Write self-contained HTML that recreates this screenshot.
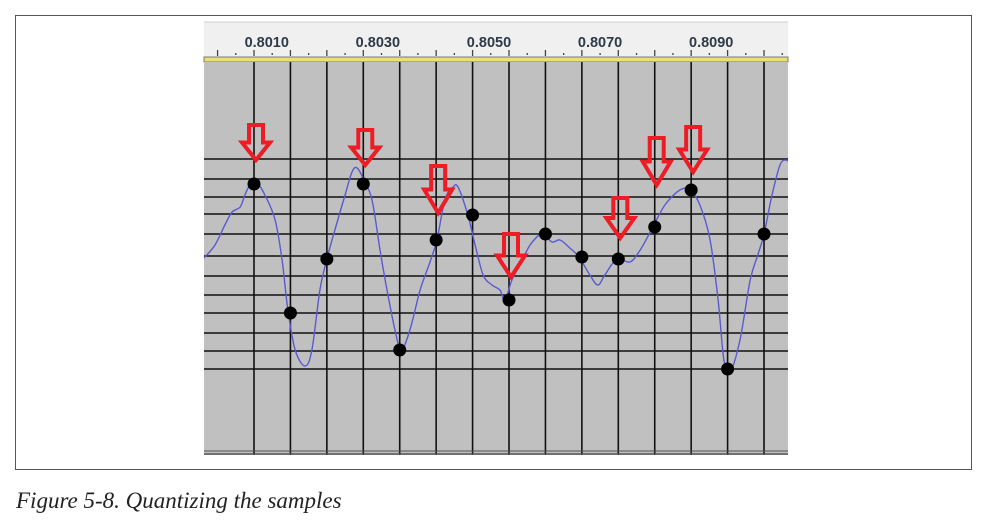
<!DOCTYPE html>
<html><head><meta charset="utf-8"><style>
body{margin:0;background:#fff;width:988px;height:529px;overflow:hidden;position:relative;font-family:"Liberation Sans",sans-serif}
#frame{position:absolute;left:15px;top:15px;width:957px;height:455px;border:1px solid #555;box-sizing:border-box}
#cap{position:absolute;left:16px;top:488px;font-family:"Liberation Serif",serif;font-style:italic;font-size:23px;color:#222}
</style></head><body>
<div id="frame"></div>
<svg id="chart" width="988" height="529" style="position:absolute;left:0;top:0"></svg>
<div id="cap">Figure 5-8. Quantizing the samples</div>
<script>
const rulerLabels=["0.8010","0.8030","0.8050","0.8070","0.8090"];
const sampleIdx=[0,1,2,3,4,5,6,7,8,9,10,11,12,13,14];
const sampleVals=[0.72,-0.57,-0.03,0.72,-0.94,0.16,0.41,-0.44,0.22,-0.01,-0.03,0.29,0.66,-1.13,0.22];
const levels=[0.97,0.77,0.59,0.42,0.22,0.0,-0.2,-0.39,-0.57,-0.77,-0.95,-1.13];
const arrowSamples=[0,3,5,7,10,11,12];
const arrowTipV=[0.96,0.91,0.43,-0.21,0.18,0.71,0.84];
const arrowTopV=[1.31,1.26,0.90,0.22,0.58,1.18,1.29];
const curveT=[-1.37,-1.07,-0.8,-0.6,-0.38,-0.25,-0.11,0.08,0.3,0.58,0.77,0.93,1.13,1.4,1.59,1.81,2.0,2.22,2.5,2.69,2.83,3.02,3.24,3.46,3.65,3.87,4.04,4.28,4.56,4.83,5.02,5.24,5.44,5.6,5.87,6.07,6.29,6.53,6.75,6.89,7.08,7.3,7.58,7.91,8.18,8.4,8.67,8.92,9.22,9.44,9.63,9.96,10.32,10.6,10.95,11.28,11.69,11.97,12.24,12.52,12.74,12.9,13.07,13.34,13.62,13.83,14.0,14.22,14.44,14.6,14.71];
const curveV=[-0.02,0.11,0.31,0.44,0.49,0.61,0.71,0.73,0.61,0.36,-0.04,-0.54,-0.94,-1.1,-0.94,-0.34,-0.03,0.26,0.61,0.84,0.88,0.76,0.56,0.06,-0.34,-0.74,-0.94,-0.74,-0.34,-0.06,0.16,0.56,0.68,0.69,0.41,0.11,-0.19,-0.29,-0.34,-0.44,-0.24,-0.09,0.11,0.22,0.14,0.16,0.08,-0.01,-0.19,-0.29,-0.19,-0.03,-0.06,0.06,0.29,0.51,0.66,0.66,0.51,0.16,-0.44,-1.04,-1.16,-0.84,-0.24,0.01,0.22,0.61,0.91,0.96,0.93];
const X=t=>254+t*36.43, Y=v=>256-v*100;
const L=204,R=788,T=62,B=455;
const svg=document.getElementById('chart');const NS='http://www.w3.org/2000/svg';
function mk(tag,attrs,parent){const e=document.createElementNS(NS,tag);for(const k in attrs)e.setAttribute(k,attrs[k]);(parent||svg).appendChild(e);return e;}
let e;
e=mk('rect',{x:204,y:22,width:584,height:36,fill:'#f0f0f0'});


mk('line',{x1:204,x2:788,y1:22,y2:22,stroke:'#ccc'});
mk('rect',{x:204,y:57,width:584,height:5,fill:'#e8e070',stroke:'#777','stroke-width':1});
e=mk('rect',{x:L,y:T,width:R-L,height:B-T,fill:'#c0c0c0'});


for(let i=-1.5;i<=14.5;i+=0.5){const x=X(i);if(x<L||x>R)continue;
 mk('line',{x1:x,x2:x,y1:Number.isInteger(i)?50:53,y2:Number.isInteger(i)?56:55,stroke:'#444','stroke-width':1.3});}
rulerLabels.forEach((s,i)=>{const t=mk('text',{x:X(0.35+i*3.05),y:47,'text-anchor':'middle','font-size':14.5,'font-weight':'bold',fill:'#2e3a48'});t.textContent=s;
 
 });
levels.forEach(v=>{e=mk('line',{x1:L,x2:R,y1:Y(v),y2:Y(v),stroke:'#111','stroke-width':1.6});
 
 });
sampleIdx.forEach(i=>{e=mk('line',{x1:X(i),x2:X(i),y1:T,y2:B,stroke:'#111','stroke-width':1.6});
 
 });
mk('line',{x1:L,x2:R,y1:451,y2:451,stroke:'#555','stroke-width':1});
mk('line',{x1:L,x2:R,y1:454,y2:454,stroke:'#555','stroke-width':1.5});
const cp=mk('clipPath',{id:'cl'});mk('rect',{x:L,y:T,width:R-L,height:B-T},cp);
const P=curveT.map((t,i)=>[X(t),Y(curveV[i])]);
let d='M'+P[0][0]+','+P[0][1];
for(let i=0;i<P.length-1;i++){const p0=P[Math.max(0,i-1)],p1=P[i],p2=P[i+1],p3=P[Math.min(P.length-1,i+2)];
 d+=` C${(p1[0]+(p2[0]-p0[0])/6).toFixed(1)},${(p1[1]+(p2[1]-p0[1])/6).toFixed(1)} ${(p2[0]-(p3[0]-p1[0])/6).toFixed(1)},${(p2[1]-(p3[1]-p1[1])/6).toFixed(1)} ${p2[0].toFixed(1)},${p2[1].toFixed(1)}`;}
e=mk('path',{d,fill:'none',stroke:'#5a5ad0','stroke-width':1.4,'clip-path':'url(#cl)'});


sampleIdx.forEach((s,i)=>{e=mk('circle',{cx:X(s),cy:Y(sampleVals[i]),r:6.5,fill:'#000'});
 
 });
arrowSamples.forEach((s,k)=>{const x=X(s)+2,tip=Y(arrowTipV[k]),top=Y(arrowTopV[k]);const hb=tip-(tip-top)*0.5;
 const p=`M${x-7},${top} L${x+7},${top} L${x+7},${hb} L${x+14},${hb} L${x},${tip} L${x-14},${hb} L${x-7},${hb} Z`;
 e=mk('path',{d:p,fill:'none',stroke:'#ee1c24','stroke-width':4,'stroke-linejoin':'miter'});
 
 });
</script>
</body></html>
